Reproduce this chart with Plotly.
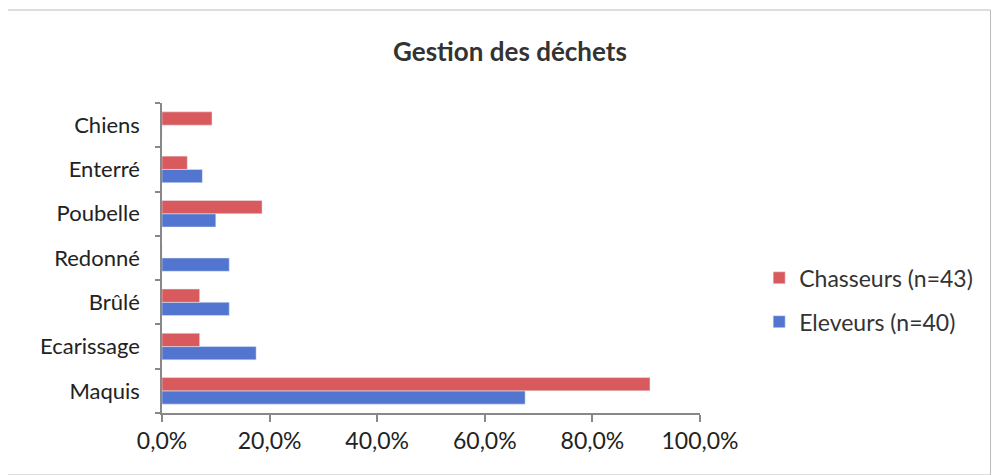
import plotly.graph_objects as go

categories = ["Maquis", "Ecarissage", "Brûlé", "Redonné", "Poubelle", "Enterré", "Chiens"]
chasseurs = [0.907, 0.070, 0.070, 0.0, 0.186, 0.047, 0.093]
eleveurs = [0.675, 0.175, 0.125, 0.125, 0.100, 0.075, 0.0]
x_ticks = [0, 0.2, 0.4, 0.6, 0.8, 1.0]

red = "#D95A5D"
blue = "#5276D0"
font = "Lato, Open Sans, sans-serif"

fig = go.Figure()
fig.add_trace(go.Bar(y=categories, x=eleveurs, orientation="h", name="Eleveurs (n=40)",
                     marker_color=blue, legendgroup="b", legendrank=2))
fig.add_trace(go.Bar(y=categories, x=chasseurs, orientation="h", name="Chasseurs (n=43)",
                     marker_color=red, legendgroup="a", legendrank=1))

# page has an 8px body margin, so the figure is 8px smaller than the window
fig.update_layout(
    width=994, height=467,
    margin=dict(l=154, r=302, t=95, b=62),
    paper_bgcolor="white", plot_bgcolor="white",
    separators=", ",
    barmode="group", bargap=0.4, bargroupgap=0,
    font=dict(family=font, size=22, color="#222"),
    title=dict(text="<b>Gestion des déchets</b>", x=0.505, xanchor="center",
               y=0.905, yanchor="middle", font=dict(size=26, color="#333")),
    legend=dict(x=1.11, xanchor="left", y=0.365, yanchor="middle",
                traceorder="grouped", tracegroupgap=11,
                font=dict(size=23, color="#333"), itemwidth=30),
    showlegend=True,
)
fig.update_xaxes(range=[0, 1.0], tickvals=x_ticks, tickformat=".1%",
                 showgrid=False, zeroline=False, showline=True, linecolor="#888",
                 linewidth=1.5, ticks="outside", ticklen=7, tickcolor="#888",
                 tickwidth=1.5, tickfont=dict(size=23))
fig.update_yaxes(showgrid=False, zeroline=False, showline=True, linecolor="#888",
                 linewidth=1.5, ticks="outside", ticklen=5, tickcolor="#888",
                 tickwidth=1.5, tickson="boundaries", ticklabelstandoff=16)

fig.add_shape(type="rect", xref="paper", yref="paper", x0=-0.29, x1=1.54, y0=-0.2, y1=1.3,
              line=dict(color="#bbb", width=1))

fig.write_html("out.html")
